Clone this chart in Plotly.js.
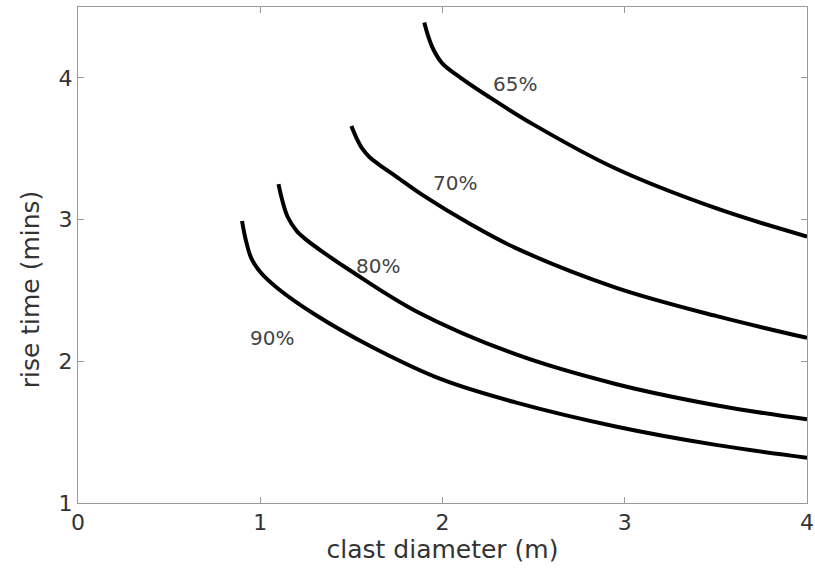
<!DOCTYPE html>
<html>
<head>
<meta charset="utf-8">
<script src="https://cdn.plot.ly/plotly-3.0.1.min.js"></script>
<style>html,body{margin:0;padding:0;background:#fff;}#chart{width:815px;height:573px;}</style>
</head>
<body>
<div id="chart"></div>
<script>
// Curve data (clast diameter in m, rise time in mins)
const x65 = [1.90, 1.92, 1.95, 2.00, 2.10, 2.25, 2.50, 2.95, 3.50, 4.00];
const y65 = [4.39, 4.30, 4.20, 4.10, 4.00, 3.87, 3.67, 3.36, 3.08, 2.88];

const x70 = [1.50, 1.53, 1.56, 1.60, 1.65, 1.75, 1.90, 2.15, 2.40, 2.95, 3.50, 4.00];
const y70 = [3.66, 3.57, 3.50, 3.44, 3.39, 3.30, 3.165, 2.97, 2.80, 2.52, 2.32, 2.165];

const x80 = [1.10, 1.12, 1.15, 1.20, 1.25, 1.35, 1.50, 1.86, 2.40, 2.95, 3.50, 4.00];
const y80 = [3.25, 3.14, 3.02, 2.92, 2.86, 2.765, 2.635, 2.35, 2.05, 1.84, 1.69, 1.59];

const x90 = [0.90, 0.92, 0.95, 1.00, 1.10, 1.30, 1.60, 2.00, 2.40, 2.95, 3.50, 4.00];
const y90 = [2.99, 2.86, 2.73, 2.63, 2.51, 2.33, 2.11, 1.87, 1.71, 1.54, 1.41, 1.32];

const labelText = ["65%", "70%", "80%", "90%"];
const labelX = [2.40, 2.07, 1.647, 1.065];
const labelY = [3.96, 3.26, 2.675, 2.167];

const xTicks = [0, 1, 2, 3, 4];
const yTicks = [1, 2, 3, 4];

const series = [[x65, y65], [x70, y70], [x80, y80], [x90, y90]];
const traces = series.map(function (s) {
  return {
    x: s[0], y: s[1], type: 'scatter', mode: 'lines',
    line: {color: '#000', width: 4, shape: 'spline', smoothing: 1},
    hoverinfo: 'skip', showlegend: false
  };
});

const font = 'DejaVu Sans, sans-serif';
const axisCommon = {
  showgrid: false, zeroline: false, showline: true, linecolor: '#9a9a9a', linewidth: 1,
  mirror: 'ticks', ticks: 'inside', ticklen: 6, tickcolor: '#9a9a9a', tickwidth: 1,
  ticklabeloverflow: 'allow',
  tickfont: {family: font, size: 22, color: '#333'}
};

const annots = labelText.map(function (t, i) {
  return {x: labelX[i], y: labelY[i], xref: 'x', yref: 'y', text: t, showarrow: false,
    font: {family: font, size: 20, color: '#444'}};
});
annots.push({
  text: 'rise time (mins)', xref: 'paper', yref: 'paper', x: -0.065, y: 0.43,
  xanchor: 'center', yanchor: 'middle', textangle: -90, showarrow: false,
  font: {family: font, size: 25, color: '#333'}
});

const layout = {
  width: 815, height: 573,
  margin: {l: 78, r: 8, t: 7, b: 70},
  paper_bgcolor: '#fff', plot_bgcolor: '#fff',
  xaxis: Object.assign({}, axisCommon, {
    range: [0, 4], tickvals: xTicks, ticktext: xTicks.map(String),
    title: {text: 'clast diameter (m)', font: {family: font, size: 25, color: '#333'}, standoff: 6}
  }),
  yaxis: Object.assign({}, axisCommon, {
    range: [1, 4.5], tickvals: yTicks, ticktext: yTicks.map(String)
  }),
  annotations: annots
};

Plotly.newPlot('chart', traces, layout, {staticPlot: true, displayModeBar: false});
</script>
</body>
</html>
